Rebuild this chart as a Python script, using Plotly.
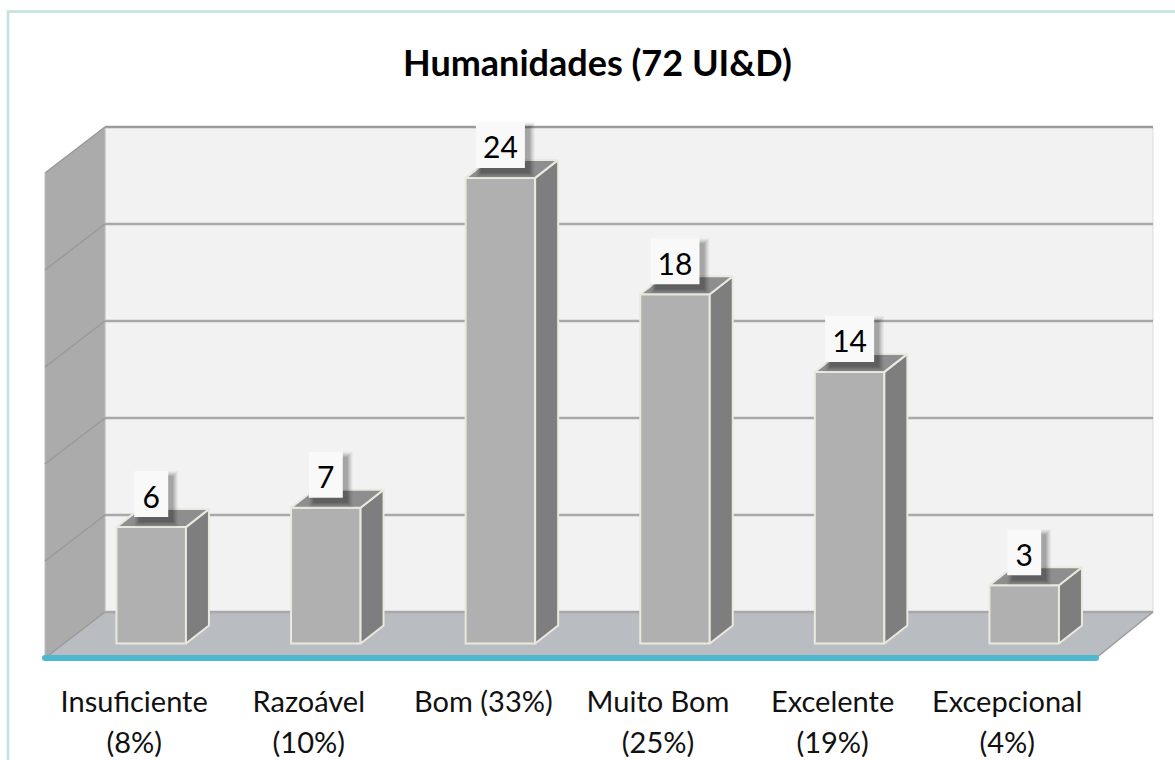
import plotly.graph_objects as go

# ---- data ----
categories = ["Insuficiente", "Razoável", "Bom (33%)", "Muito Bom", "Excelente", "Excepcional"]
percent_lines = ["(8%)", "(10%)", "", "(25%)", "(19%)", "(4%)"]
values = [6, 7, 24, 18, 14, 3]
axis_ticks = [0, 5, 10, 15, 20, 25]
title = "Humanidades (72 UI&D)"

# ---- scale set-up: one category = 174.6 px, one unit = 19.4 px ----
W, H = 1175, 760
XU, YU = 174.6, 19.4
X0, Y0 = 151.2, 643.5
FONT = "Lato"
dx = lambda px: px / XU          # px -> category units
dy = lambda px: px / YU          # px -> value units

bar_w = dx(69.5)
bar_dx, bar_dy = dx(23), dy(18)
floor_front = dy(Y0 - 658)
floor_back = dy(Y0 - 612)
wall_left_front = dx(45 - X0)
wall_left_back = dx(105 - X0)
floor_right_front = dx(1096 - X0)
floor_right_back = dx(1153 - X0)
top_val = floor_back + axis_ticks[-1]
wall_drop = floor_back - floor_front


def poly(points):
    return "M " + " L ".join(f"{x},{y}" for x, y in points) + " Z"


shapes = [
    # page frame
    dict(type="rect", xref="paper", yref="paper", x0=8 / W, x1=1.2, y0=-0.2, y1=1 - 11.5 / H,
         line=dict(color="#BFE3DC", width=2.5), fillcolor="white", layer="below"),
    # back wall
    dict(type="path", path=poly([(wall_left_back, floor_back), (floor_right_back, floor_back),
                                 (floor_right_back, top_val), (wall_left_back, top_val)]),
         fillcolor="#F2F2F2", line=dict(color="#DCDCDC", width=1), layer="below"),
    # left wall
    dict(type="path", path=poly([(wall_left_front, floor_front), (wall_left_back, floor_back),
                                 (wall_left_back, top_val), (wall_left_front, top_val - wall_drop)]),
         fillcolor="#ABABAB", line=dict(color="#BDBDBD", width=1), layer="below"),
    # floor
    dict(type="path", path=poly([(wall_left_front, floor_front), (floor_right_front, floor_front),
                                 (floor_right_back, floor_back), (wall_left_back, floor_back)]),
         fillcolor="#B9BCC0", line=dict(color="#B9BCC0", width=0), layer="below"),
]
# gridlines along back and left wall
for t in axis_ticks:
    yb = floor_back + t
    col = "#9C9C9C" if t == axis_ticks[-1] else "#A8A8A8"
    shapes.append(dict(type="line", x0=wall_left_back, x1=floor_right_back, y0=yb, y1=yb,
                       line=dict(color=col, width=2.5), layer="below"))
    shapes.append(dict(type="line", x0=wall_left_front, x1=wall_left_back, y0=yb - wall_drop, y1=yb,
                       line=dict(color="#999999", width=1.5), layer="below"))
# floor right edge
shapes.append(dict(type="line", x0=floor_right_front, x1=floor_right_back, y0=floor_front, y1=floor_back,
                   line=dict(color="#9A9A9A", width=1.5), layer="below"))

fig = go.Figure()
EDGE = "#E9E9DF"

# front faces
fig.add_trace(go.Bar(x=list(range(len(values))), y=values, width=bar_w,
                     marker=dict(color="#B0B0B0", line=dict(color=EDGE, width=2)),
                     hoverinfo="skip", showlegend=False))


def face(xs, ys, fill):
    fig.add_trace(go.Scatter(x=xs, y=ys, mode="lines", fill="toself", fillcolor=fill,
                             line=dict(color=EDGE, width=2), hoverinfo="skip", showlegend=False))


for i, v in enumerate(values):
    l, r = i - bar_w / 2, i + bar_w / 2
    face([r, r + bar_dx, r + bar_dx, r, r], [0, bar_dy, v + bar_dy, v, 0], "#7E7E7E")
    face([l, l + bar_dx, r + bar_dx, r, l], [v, v + bar_dy, v + bar_dy, v, v], "#8E8E8E")

# value labels: white boxes with soft shadow, then text
box_gap, box_h = dy(10), dy(46)
for i, v in enumerate(values):
    bw = dx(49 if v >= 10 else 34)
    l, r = i - bw / 2, i + bw / 2
    b, t = v + box_gap, v + box_gap + box_h
    for grow, alpha in [(5, .035), (4, .045), (3, .055), (2, .065), (1, .075), (0, .085)]:
        ox, oy = dx(5), dy(-5)
        g_x, g_y = dx(grow), dy(grow)
        fig.add_trace(go.Scatter(
            x=[l + ox - g_x, r + ox + g_x, r + ox + g_x, l + ox - g_x, l + ox - g_x],
            y=[b + oy - g_y, b + oy - g_y, t + oy + g_y, t + oy + g_y, b + oy - g_y],
            mode="none", fill="toself", fillcolor=f"rgba(0,0,0,{alpha})",
            hoverinfo="skip", showlegend=False))
    fig.add_trace(go.Scatter(x=[l, r, r, l, l], y=[b, b, t, t, b], mode="none", fill="toself",
                             fillcolor="#F9F9F9", hoverinfo="skip", showlegend=False))
    fig.add_trace(go.Scatter(x=[i], y=[b + dy(17)], mode="text", text=[str(v)],
                             textfont=dict(family=FONT, size=30, color="#000000"),
                             textposition="middle center", hoverinfo="skip", showlegend=False))

# teal front edge
fig.add_trace(go.Scatter(x=[wall_left_front, floor_right_front], y=[floor_front, floor_front],
                         mode="lines+markers", line=dict(color="#4FB8D0", width=6),
                         marker=dict(color="#4FB8D0", size=6), hoverinfo="skip", showlegend=False))

# category labels (two rows)
label_shift = dx(-17)
fig.add_trace(go.Scatter(x=[i + label_shift for i in range(len(categories))],
                         y=[dy(Y0 - 705)] * len(categories), mode="text", text=categories,
                         textfont=dict(family=FONT, size=29, color="#111111"),
                         textposition="middle center", hoverinfo="skip", showlegend=False))
fig.add_trace(go.Scatter(x=[i + label_shift for i in range(len(percent_lines))],
                         y=[dy(Y0 - 746)] * len(percent_lines), mode="text", text=percent_lines,
                         textfont=dict(family=FONT, size=29, color="#111111"),
                         textposition="middle center", hoverinfo="skip", showlegend=False))

fig.update_layout(
    width=W, height=H, margin=dict(l=0, r=0, t=0, b=0),
    paper_bgcolor="white", plot_bgcolor="rgba(0,0,0,0)",
    shapes=shapes, showlegend=False,
    xaxis=dict(range=[-X0 / XU, (W - X0) / XU], visible=False, fixedrange=True),
    yaxis=dict(range=[(Y0 - H) / YU, Y0 / YU], visible=False, fixedrange=True),
    annotations=[dict(text=f"<b>{title}</b>", xref="paper", yref="paper", x=597 / W, y=1 - 62 / H,
                      xanchor="center", yanchor="middle", showarrow=False,
                      font=dict(family=FONT, size=36, color="#000000"))],
)
fig.write_html("out.html", config={"displayModeBar": False},
               post_script="document.body.style.margin='0';")
